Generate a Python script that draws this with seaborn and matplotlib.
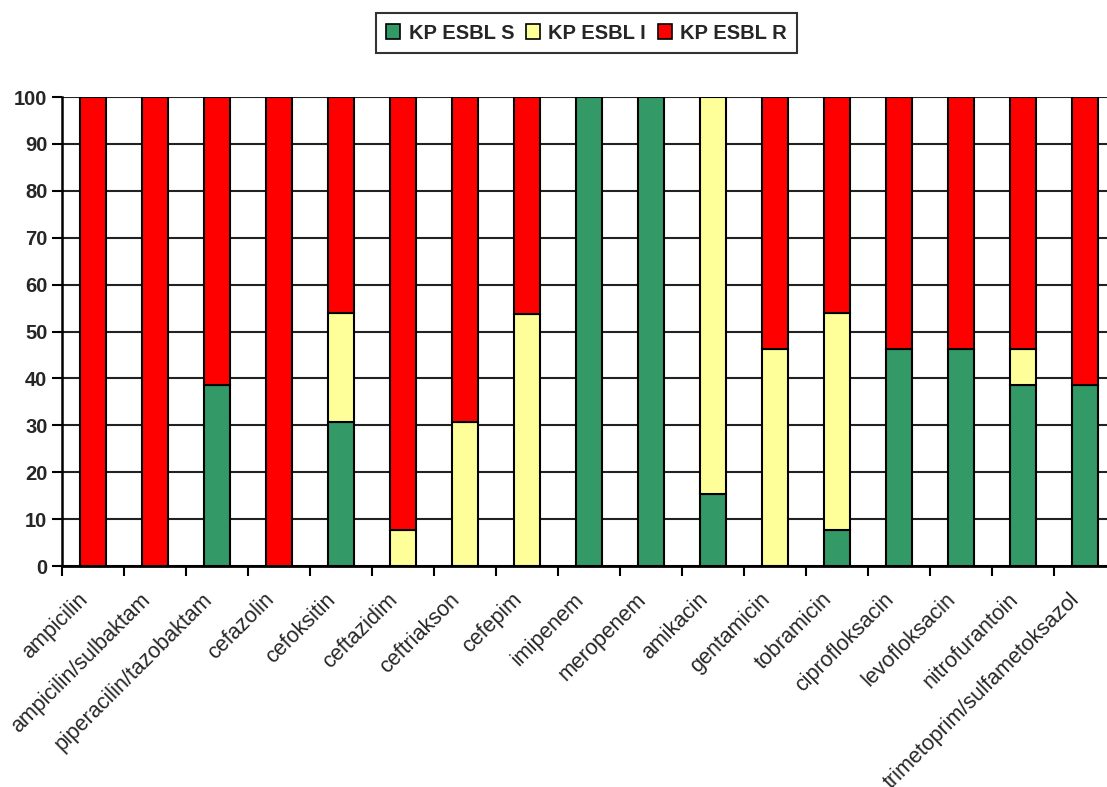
import pandas as pd
import numpy as np
import seaborn as sns
from matplotlib import pyplot as plt
from matplotlib.patches import Patch

# antibiotici i postotak izolata (S / I / R)
antibiotici = ['ampicilin', 'ampicilin/sulbaktam', 'piperacilin/tazobaktam',
               'cefazolin', 'cefoksitin', 'ceftazidim', 'ceftriakson', 'cefepim',
               'imipenem', 'meropenem', 'amikacin', 'gentamicin', 'tobramicin',
               'ciprofloksacin', 'levofloksacin', 'nitrofurantoin',
               'trimetoprim/sulfametoksazol']
kp_s = [0, 0, 38.5, 0, 30.8, 0, 0, 0, 100, 100, 15.4, 0, 7.7, 46.2, 46.2, 38.5, 38.5]
kp_i = [0, 0, 0, 0, 23.1, 7.7, 30.8, 53.8, 0, 0, 84.6, 46.2, 46.2, 0, 0, 7.7, 0]
kp_r = [100, 100, 61.5, 100, 46.2, 92.3, 69.2, 46.2, 0, 0, 0, 53.8, 46.2, 53.8, 53.8, 53.8, 61.5]
serije = ['KP ESBL S', 'KP ESBL I', 'KP ESBL R']
boje = ['#339966', '#FFFF99', '#FF0000']

df = pd.DataFrame({'antibiotik': antibiotici, 'S': kp_s, 'I': kp_i, 'R': kp_r})

sns.set_style('white')
plt.rcParams['font.family'] = ['Liberation Sans', 'DejaVu Sans']

fig = plt.figure(figsize=(11.07, 7.87), dpi=100)
ax = fig.add_axes([0.056, 0.2808, 0.952, 0.5959])

dno = np.zeros(len(df))
for stupac, boja in zip(['S', 'I', 'R'], boje):
    sns.barplot(data=df, x='antibiotik', y=stupac, order=antibiotici, color=boja,
                saturation=1, width=0.42, bottom=dno, edgecolor='black',
                linewidth=1.5, errorbar=None, ax=ax, zorder=3)
    # skrij stupce visine 0
    for p in ax.containers[-1]:
        if p.get_height() == 0:
            p.set_visible(False)
    dno = dno + df[stupac].to_numpy()

ax.set_xlim(-0.5, len(df) - 0.5)
ax.set_ylim(0, 100)
ax.set_yticks(range(0, 101, 10))
ax.yaxis.grid(True, color='#222222', linewidth=1.5, zorder=0)
ax.xaxis.grid(False)
ax.set_xlabel('')
ax.set_ylabel('')

for s in ['top', 'right']:
    ax.spines[s].set_visible(False)
ax.spines['left'].set_color('black')
ax.spines['left'].set_linewidth(1.8)
ax.spines['bottom'].set_color('black')
ax.spines['bottom'].set_linewidth(2)

# natpisi malo lijevo od sredine stupca, kao u Excelu
ax.set_xticks(np.arange(len(df)) - 0.13)
ax.set_xticklabels(antibiotici, rotation=45, ha='right', va='center',
                   rotation_mode='anchor', fontsize=15.5)
ax.set_xticks(np.arange(-0.5, len(df), 1), minor=True)
ax.tick_params(axis='x', which='major', length=0, pad=22)
ax.tick_params(axis='x', which='minor', length=7, width=1.5, color='black', direction='out', bottom=True)
ax.tick_params(axis='y', length=7, width=1.5, color='black', direction='out', left=True, labelsize=14.5)
for t in ax.get_yticklabels():
    t.set_fontweight('bold')

rucke = [Patch(facecolor=b, edgecolor='black', linewidth=1.2, label=n) for n, b in zip(serije, boje)]
leg = fig.legend(handles=rucke, loc='center', bbox_to_anchor=(0.53, 0.958), ncol=3,
                 frameon=True, fancybox=False, edgecolor='black', handlelength=0.7,
                 handleheight=0.7, handletextpad=0.4, columnspacing=0.6,
                 borderpad=0.5, prop={'weight': 'bold', 'size': 14.5})
leg.get_frame().set_linewidth(1.5)

fig.savefig('out.png', dpi=100)
